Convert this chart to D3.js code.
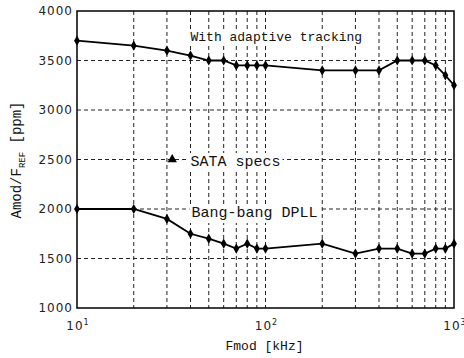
<!DOCTYPE html>
<html>
<head>
<meta charset="utf-8">
<script src="https://cdn.jsdelivr.net/npm/d3@7"></script>
<style>
  body { margin: 0; background: #fff; }
  .tick text { font-family: "DejaVu Sans", sans-serif; font-size: 12px; letter-spacing: 1px; fill: #222; }
  .lbl { font-family: "Liberation Mono", monospace; fill: #111; }
</style>
</head>
<body>
<div id="chart"></div>
<script>
// modulation frequency in kHz (x), tolerance in ppm (y)
const FREQ = [10, 20, 30, 40, 50, 60, 70, 80, 90, 100, 200, 300, 400, 500, 600, 700, 800, 900, 1000]
const ADAPTIVE = [3700, 3650, 3600, 3550, 3500, 3500, 3450, 3450, 3450, 3450, 3400, 3400, 3400, 3500, 3500, 3500, 3450, 3350, 3250]
const BANGBANG = [2000, 2000, 1900, 1750, 1700, 1650, 1600, 1650, 1600, 1600, 1650, 1550, 1600, 1600, 1550, 1550, 1600, 1600, 1650]
const SATA_SPEC = [32, 2500]
const Y_TICKS = [1000, 1500, 2000, 2500, 3000, 3500, 4000]
const X_DECADES = [10, 100, 1000]

var W = 464, H = 358
var mL = 77, mR = 454, mT = 11, mB = 308

var svg = d3.select('#chart').append('svg').attr('width', W).attr('height', H)

var x = d3.scaleLog().domain([10, 1000]).range([mL, mR])
var y = d3.scaleLinear().domain([1000, 4000]).range([mB, mT])

// dashed grid
var grid = svg.append('g').attr('stroke', '#222').attr('stroke-width', 1).attr('stroke-dasharray', '4,3')
grid.selectAll('line.v').data(FREQ.slice(1, -1)).enter().append('line')
	.attr('x1', d => x(d)).attr('x2', d => x(d)).attr('y1', mT).attr('y2', mB)
grid.selectAll('line.h').data(Y_TICKS.slice(1, -1)).enter().append('line')
	.attr('y1', d => y(d)).attr('y2', d => y(d)).attr('x1', mL).attr('x2', mR)

// tick labels
var yAxis = svg.append('g').attr('transform', `translate(${mL},0)`)
	.call(d3.axisLeft(y).tickValues(Y_TICKS).tickSize(0).tickPadding(4).tickFormat(d3.format('d')))
yAxis.select('.domain').remove()

var xAxis = svg.append('g').attr('transform', `translate(0,${mB})`)
	.call(d3.axisBottom(x).tickValues(X_DECADES).tickSize(0).tickPadding(13).tickFormat(() => '10'))
xAxis.select('.domain').remove()
xAxis.selectAll('.tick text').append('tspan')
	.attr('dy', '-0.6em').style('font-size', '8px').style('letter-spacing', '0')
	.text(d => Math.round(Math.log10(d)))

// frame
svg.append('rect').attr('x', mL).attr('y', mT).attr('width', mR - mL).attr('height', mB - mT)
	.attr('fill', 'none').attr('stroke', '#000').attr('stroke-width', 1.5)

// text boxes (white background over the grid)
function boxLabel(txt, px, py, size) {
	var g = svg.append('g')
	var t = g.append('text').attr('class', 'lbl').attr('x', px).attr('y', py)
		.style('font-size', size + 'px').text(txt)
	var b = t.node().getBBox()
	g.insert('rect', 'text').attr('x', b.x - 2).attr('y', b.y - 1)
		.attr('width', b.width + 4).attr('height', b.height + 2).attr('fill', '#fff')
}
boxLabel('With adaptive tracking', x(40), 41, 13)
boxLabel('SATA specs', x(40), 166, 15)
boxLabel('Bang-bang DPLL', x(40.5), 217, 15)

// series
var line = d3.line().x(d => x(d[0])).y(d => y(d[1]))
var series = [ADAPTIVE, BANGBANG].map(vals => FREQ.map((f, i) => [f, vals[i]]))
series.forEach(pts => {
	svg.append('path').datum(pts).attr('d', line)
		.attr('fill', 'none').attr('stroke', '#000').attr('stroke-width', 1.8)
	svg.selectAll(null).data(pts).enter().append('path')
		.attr('d', d3.symbol(d3.symbolDiamond, 30))
		.attr('transform', d => `translate(${x(d[0])},${y(d[1])})`)
		.attr('fill', '#000')
})

// SATA spec marker
svg.append('path').attr('d', d3.symbol(d3.symbolTriangle, 38))
	.attr('transform', `translate(${x(SATA_SPEC[0])},${y(SATA_SPEC[1])})`)
	.attr('fill', '#000')

// axis titles
svg.append('text').attr('class', 'lbl').attr('x', (mL + mR) / 2 - 1).attr('y', 350)
	.attr('text-anchor', 'middle').style('font-size', '13px').text('Fmod [kHz]')

var yl = svg.append('text').attr('class', 'lbl').attr('transform', 'translate(21,160) rotate(-90)')
	.attr('text-anchor', 'middle').style('font-size', '14px')
yl.append('tspan').text('Amod/F')
yl.append('tspan').attr('dy', 4).style('font-size', '9px').text('REF')
yl.append('tspan').attr('dy', -4).text(' [ppm]')
</script>
</body>
</html>
